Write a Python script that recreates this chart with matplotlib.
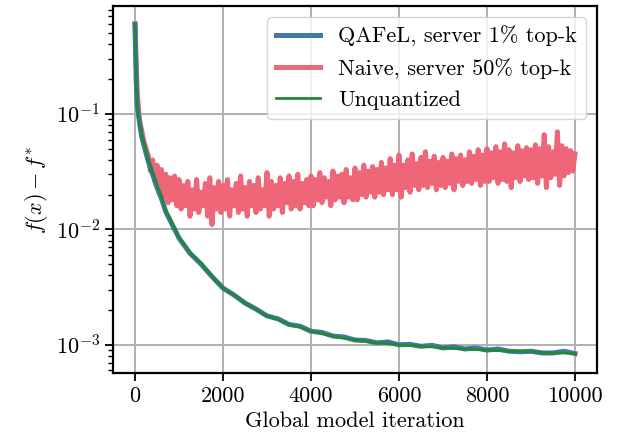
import matplotlib
matplotlib.use("Agg")
import matplotlib.pyplot as plt

plt.rcParams['font.family'] = 'serif'
plt.rcParams['font.serif'] = ['cmr10', 'DejaVu Serif']
plt.rcParams['mathtext.fontset'] = 'cm'
plt.rcParams['axes.formatter.use_mathtext'] = True
plt.rcParams['axes.unicode_minus'] = False

# ---- data ----
labels = ["QAFeL, server 1% top-k", "Naive, server 50% top-k", "Unquantized"]

iters_conv = [0, 25, 50, 100, 150, 200, 300, 400, 500, 600, 700, 800, 900, 1000,
              1250, 1500, 1750, 2000, 2250, 2500, 2750, 3000, 3250, 3500, 3750,
              4000, 4250, 4500, 4750, 5000, 5250, 5500, 5750, 6000, 6250, 6500,
              6750, 7000, 7250, 7500, 7750, 8000, 8250, 8500, 8750, 9000, 9250,
              9500, 9750, 10000]

unquantized = [0.6, 0.2, 0.11, 0.083, 0.066, 0.056, 0.040, 0.031, 0.024, 0.019,
               0.0145, 0.0122, 0.0102, 0.0085,
               0.0063, 0.0051, 0.0039, 0.0031, 0.0027, 0.0023, 0.00202, 0.00178,
               0.00165, 0.00150, 0.00142, 0.00131, 0.00125, 0.00119, 0.00114,
               0.00110, 0.00107, 0.00104, 0.00102, 0.00100, 0.00099, 0.00097,
               0.00096, 0.00094, 0.00093, 0.00092, 0.00091, 0.00090, 0.00089,
               0.00088, 0.00088, 0.00087, 0.00086, 0.00085, 0.00085, 0.00084]

qafel = [0.6, 0.2, 0.12, 0.085, 0.064, 0.054, 0.039, 0.030, 0.023, 0.0185,
         0.0142, 0.0119, 0.0100, 0.0084,
         0.0062, 0.0050, 0.0039, 0.0031, 0.0027, 0.0023, 0.00204, 0.00178,
         0.00168, 0.00150, 0.00145, 0.00131, 0.00128, 0.00119, 0.00117,
         0.00110, 0.00109, 0.00104, 0.00106, 0.00100, 0.00101, 0.00097,
         0.00099, 0.00094, 0.00096, 0.00092, 0.00094, 0.00090, 0.00092,
         0.00088, 0.00087, 0.00088, 0.00085, 0.00085, 0.00088, 0.00084]

iters_naive = list(range(0, 10001, 50))
naive = [
    0.6, 0.15, 0.09, 0.072, 0.058, 0.05, 0.044, 0.032, 0.04, 0.026,
    0.036, 0.022, 0.033, 0.019, 0.03, 0.017, 0.028, 0.018, 0.029, 0.016,
    0.027, 0.015, 0.024, 0.016, 0.026, 0.013, 0.022, 0.015, 0.027, 0.014,
    0.021, 0.016, 0.025, 0.013, 0.028, 0.011, 0.023, 0.015, 0.026, 0.014,
    0.024, 0.015, 0.027, 0.013, 0.022, 0.016, 0.025, 0.014, 0.029, 0.015,
    0.023, 0.013, 0.026, 0.016, 0.024, 0.014, 0.028, 0.015, 0.022, 0.016,
    0.031, 0.013, 0.026, 0.015, 0.024, 0.016, 0.028, 0.014, 0.025, 0.017,
    0.029, 0.015, 0.026, 0.016, 0.030, 0.015, 0.025, 0.017, 0.027, 0.016,
    0.029, 0.016, 0.027, 0.018, 0.031, 0.017, 0.028, 0.019, 0.026, 0.016,
    0.032, 0.018, 0.029, 0.019, 0.030, 0.017, 0.033, 0.019, 0.028, 0.018,
    0.034, 0.018, 0.031, 0.020, 0.036, 0.019, 0.032, 0.021, 0.035, 0.019,
    0.033, 0.021, 0.038, 0.020, 0.034, 0.022, 0.041, 0.020, 0.036, 0.022,
    0.044, 0.019, 0.036, 0.023, 0.040, 0.021, 0.045, 0.024, 0.037, 0.022,
    0.042, 0.024, 0.047, 0.023, 0.039, 0.025, 0.043, 0.022, 0.038, 0.024,
    0.042, 0.023, 0.039, 0.025, 0.045, 0.022, 0.041, 0.026, 0.044, 0.024,
    0.040, 0.026, 0.047, 0.025, 0.043, 0.027, 0.049, 0.024, 0.044, 0.026,
    0.050, 0.026, 0.046, 0.028, 0.052, 0.025, 0.047, 0.027, 0.055, 0.026,
    0.049, 0.023, 0.046, 0.028, 0.053, 0.026, 0.048, 0.029, 0.051, 0.027,
    0.049, 0.028, 0.054, 0.025, 0.050, 0.029, 0.066, 0.023, 0.052, 0.028,
    0.047, 0.030, 0.070, 0.024, 0.053, 0.029, 0.050, 0.031, 0.048, 0.032,
    0.045]

xticks = [0, 2000, 4000, 6000, 8000, 10000]

# ---- plot ----
fig = plt.figure(figsize=(6.22, 4.44), dpi=100)
ax = fig.add_axes([0.1817, 0.1599, 0.7781, 0.8266])

ax.plot(iters_conv, qafel, color='#4477AA', lw=3.6, label=labels[0], zorder=3)
ax.plot(iters_naive, naive, color='#EE6677', lw=3.6, label=labels[1], zorder=2)
ax.plot(iters_conv, unquantized, color='#228833', lw=2.0, label=labels[2], zorder=4)

ax.set_yscale('log')
ax.set_xlim(-500, 10500)
ax.set_ylim(5.7e-4, 0.86)
ax.set_xticks(xticks)
ax.set_xticklabels([str(t) for t in xticks])

ax.grid(True, which='major', color='#b0b0b0', lw=1.4)
ax.set_axisbelow(True)
for s in ax.spines.values():
    s.set_linewidth(1.6)
ax.tick_params(which='major', length=6, width=1.3, labelsize=16)
ax.tick_params(which='minor', length=3.5, width=1.0)

ax.set_xlabel('Global model iteration', fontsize=16)
ax.set_ylabel(r'$f(x) - f^{*}$', fontsize=16)

leg = ax.legend(loc='upper right', fontsize=16, borderaxespad=0.5,
                handlelength=2.0, framealpha=0.8, edgecolor='#cccccc')

fig.savefig('out.png', dpi=100)
